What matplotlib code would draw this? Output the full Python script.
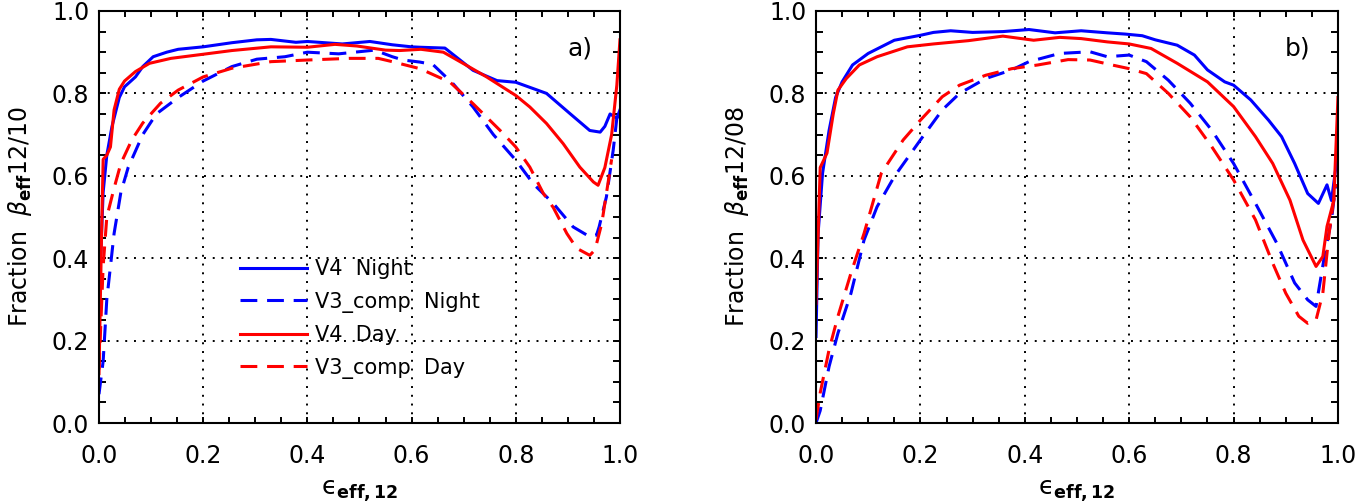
import numpy as np
from matplotlib import pyplot as plt
from matplotlib.ticker import MultipleLocator, FormatStrFormatter

BLUE = "#0000ff"
RED = "#ff0000"

# panel a) : beta_eff 12/10
a_v4n_x = [0.0, 0.008, 0.015, 0.025, 0.039, 0.049, 0.07, 0.084, 0.104, 0.13, 0.152, 0.2, 0.255, 0.303,
           0.33, 0.378, 0.4, 0.467, 0.52, 0.563, 0.6, 0.616, 0.664, 0.718, 0.764, 0.8, 0.859, 0.904,
           0.942, 0.962, 0.971, 0.981, 0.994, 1.0]
a_v4n_y = [0.30, 0.56, 0.65, 0.72, 0.79, 0.816, 0.84, 0.865, 0.889, 0.90, 0.907, 0.913, 0.923, 0.93,
           0.931, 0.924, 0.926, 0.92, 0.926, 0.918, 0.913, 0.912, 0.91, 0.856, 0.831, 0.827, 0.80, 0.751,
           0.71, 0.706, 0.72, 0.75, 0.74, 0.76]

a_v3n_x = [0.0, 0.008, 0.015, 0.022, 0.029, 0.042, 0.056, 0.084, 0.11, 0.152, 0.2, 0.255, 0.303, 0.357,
           0.4, 0.46, 0.529, 0.563, 0.584, 0.616, 0.641, 0.68, 0.718, 0.757, 0.8, 0.834, 0.872, 0.91,
           0.942, 0.955, 0.96, 0.974, 0.987, 0.994, 1.0]
a_v3n_y = [0.07, 0.15, 0.30, 0.38, 0.46, 0.56, 0.62, 0.70, 0.75, 0.79, 0.83, 0.865, 0.883, 0.889,
           0.90, 0.896, 0.905, 0.889, 0.881, 0.876, 0.87, 0.823, 0.767, 0.70, 0.638, 0.58, 0.533, 0.476,
           0.452, 0.456, 0.476, 0.549, 0.662, 0.74, 0.75]

a_v4d_x = [0.0, 0.005, 0.008, 0.015, 0.022, 0.029, 0.039, 0.049, 0.07, 0.097, 0.138, 0.2, 0.255, 0.33,
           0.4, 0.453, 0.495, 0.55, 0.577, 0.618, 0.661, 0.70, 0.744, 0.8, 0.827, 0.859, 0.891, 0.923,
           0.949, 0.958, 0.971, 0.984, 0.994, 1.0]
a_v4d_y = [0.12, 0.46, 0.64, 0.65, 0.67, 0.76, 0.81, 0.83, 0.853, 0.873, 0.885, 0.895, 0.904, 0.913,
           0.912, 0.919, 0.915, 0.905, 0.904, 0.907, 0.90, 0.872, 0.84, 0.795, 0.767, 0.727, 0.678, 0.621,
           0.585, 0.577, 0.62, 0.70, 0.82, 0.93]

a_v3d_x = [0.0, 0.008, 0.015, 0.029, 0.042, 0.063, 0.084, 0.118, 0.152, 0.2, 0.255, 0.33, 0.4, 0.48,
           0.536, 0.563, 0.616, 0.674, 0.718, 0.77, 0.8, 0.827, 0.853, 0.872, 0.898, 0.917, 0.942, 0.952,
           0.965, 0.974, 0.984]
a_v3d_y = [0.13, 0.38, 0.50, 0.57, 0.63, 0.687, 0.728, 0.776, 0.808, 0.84, 0.861, 0.877, 0.881, 0.885,
           0.885, 0.877, 0.86, 0.827, 0.775, 0.71, 0.67, 0.621, 0.557, 0.523, 0.46, 0.424, 0.407, 0.42,
           0.484, 0.557, 0.64]

# panel b) : beta_eff 12/08
b_v4n_x = [0.0, 0.004, 0.0125, 0.025, 0.0375, 0.05, 0.07, 0.1, 0.15, 0.2, 0.225, 0.258, 0.3, 0.358,
           0.408, 0.458, 0.508, 0.558, 0.592, 0.625, 0.65, 0.692, 0.725, 0.75, 0.783, 0.8, 0.833, 0.867,
           0.892, 0.917, 0.942, 0.9625, 0.979, 0.9875, 0.996, 1.0]
b_v4n_y = [0.21, 0.46, 0.606, 0.71, 0.79, 0.828, 0.869, 0.897, 0.929, 0.941, 0.948, 0.952, 0.948, 0.95,
           0.955, 0.947, 0.952, 0.947, 0.944, 0.94, 0.93, 0.917, 0.893, 0.857, 0.828, 0.82, 0.784, 0.735,
           0.695, 0.63, 0.557, 0.533, 0.578, 0.54, 0.62, 0.66]

b_v3n_x = [0.0, 0.008, 0.025, 0.042, 0.067, 0.092, 0.117, 0.15, 0.2, 0.242, 0.275, 0.325, 0.375, 0.408,
           0.467, 0.525, 0.558, 0.6, 0.633, 0.675, 0.717, 0.758, 0.8, 0.842, 0.883, 0.917, 0.942, 0.958,
           0.975, 0.9875, 0.996]
b_v3n_y = [0.0, 0.03, 0.137, 0.218, 0.315, 0.444, 0.525, 0.598, 0.687, 0.76, 0.80, 0.836, 0.857, 0.877,
           0.897, 0.901, 0.889, 0.893, 0.877, 0.832, 0.776, 0.711, 0.63, 0.533, 0.436, 0.34, 0.299, 0.283,
           0.412, 0.493, 0.58]

b_v4d_x = [0.0, 0.008, 0.021, 0.033, 0.042, 0.058, 0.083, 0.117, 0.175, 0.225, 0.292, 0.358, 0.417, 0.467,
           0.508, 0.558, 0.6, 0.642, 0.692, 0.75, 0.8, 0.842, 0.875, 0.908, 0.933, 0.958, 0.971, 0.979,
           0.992, 1.0]
b_v4d_y = [0.29, 0.62, 0.655, 0.75, 0.808, 0.836, 0.869, 0.889, 0.913, 0.92, 0.928, 0.939, 0.929, 0.936,
           0.933, 0.925, 0.92, 0.909, 0.873, 0.828, 0.768, 0.695, 0.63, 0.541, 0.444, 0.38, 0.404, 0.477,
           0.54, 0.79]

b_v3d_x = [0.0, 0.008, 0.025, 0.042, 0.067, 0.092, 0.125, 0.167, 0.2, 0.242, 0.275, 0.325, 0.375, 0.425,
           0.483, 0.525, 0.567, 0.6, 0.633, 0.675, 0.717, 0.758, 0.8, 0.842, 0.875, 0.9, 0.925, 0.942,
           0.958, 0.971, 0.983, 0.996]
b_v3d_y = [0.008, 0.073, 0.178, 0.259, 0.364, 0.46, 0.606, 0.687, 0.735, 0.792, 0.82, 0.844, 0.86, 0.869,
           0.882, 0.881, 0.869, 0.86, 0.848, 0.80, 0.743, 0.671, 0.59, 0.493, 0.388, 0.315, 0.259, 0.242,
           0.25, 0.315, 0.46, 0.58]

labels = ["V4  Night", "V3_comp  Night", "V4  Day", "V3_comp  Day"]

LW = 2.2
DASH = (5.5, 3.2)


def style_axes(ax, ylab, tag):
    ax.set_xlim(0, 1)
    ax.set_ylim(0, 1)
    ax.xaxis.set_major_locator(MultipleLocator(0.2))
    ax.yaxis.set_major_locator(MultipleLocator(0.2))
    ax.xaxis.set_minor_locator(MultipleLocator(0.05))
    ax.yaxis.set_minor_locator(MultipleLocator(0.05))
    ax.xaxis.set_major_formatter(FormatStrFormatter("%.1f"))
    ax.yaxis.set_major_formatter(FormatStrFormatter("%.1f"))
    ax.tick_params(which="both", direction="in", top=True, right=True, width=1.4)
    ax.tick_params(axis="x", which="both", length=4.3, pad=15, labelsize=17)
    ax.tick_params(axis="y", which="both", length=5.0, pad=7, labelsize=17)
    for sp in ax.spines.values():
        sp.set_linewidth(1.5)
    ax.grid(True, which="major", color="black", linestyle=(0, (1, 3.5)), linewidth=1.4)
    ax.set_xlabel("ϵ$_{\\mathbf{eff,12}}$", fontsize=18)
    ax.xaxis.set_label_coords(0.5, -0.135)
    ax.set_ylabel(ylab, fontsize=17)
    ax.yaxis.set_label_coords(-0.125, 0.5)
    ax.text(0.923, 0.91, tag, transform=ax.transAxes, fontsize=18, ha="center", va="center")


fig = plt.figure(figsize=(13.71, 5.04), dpi=100)
ax1 = fig.add_axes([0.0722, 0.1607, 0.380, 0.8175])
ax2 = fig.add_axes([0.5952, 0.1607, 0.3807, 0.8175])

ax1.plot(a_v4n_x, a_v4n_y, color=BLUE, lw=LW, label=labels[0])
ax1.plot(a_v3n_x, a_v3n_y, color=BLUE, lw=LW, dashes=DASH, label=labels[1])
ax1.plot(a_v4d_x, a_v4d_y, color=RED, lw=LW, label=labels[2])
ax1.plot(a_v3d_x, a_v3d_y, color=RED, lw=LW, dashes=DASH, label=labels[3])

ax2.plot(b_v4n_x, b_v4n_y, color=BLUE, lw=LW)
ax2.plot(b_v3n_x, b_v3n_y, color=BLUE, lw=LW, dashes=DASH)
ax2.plot(b_v4d_x, b_v4d_y, color=RED, lw=LW)
ax2.plot(b_v3d_x, b_v3d_y, color=RED, lw=LW, dashes=DASH)

style_axes(ax1, r"Fraction  $\beta_{\mathbf{eff}}$12/10", "a)")
style_axes(ax2, r"Fraction  $\beta_{\mathbf{eff}}$12/08", "b)")

ax1.legend(loc="upper left", bbox_to_anchor=(0.255, 0.418), frameon=False, fontsize=15,
           handlelength=3.2, handletextpad=0.4, labelspacing=0.6, borderpad=0.4,
           borderaxespad=0.0)

fig.savefig("out.png", dpi=100)
